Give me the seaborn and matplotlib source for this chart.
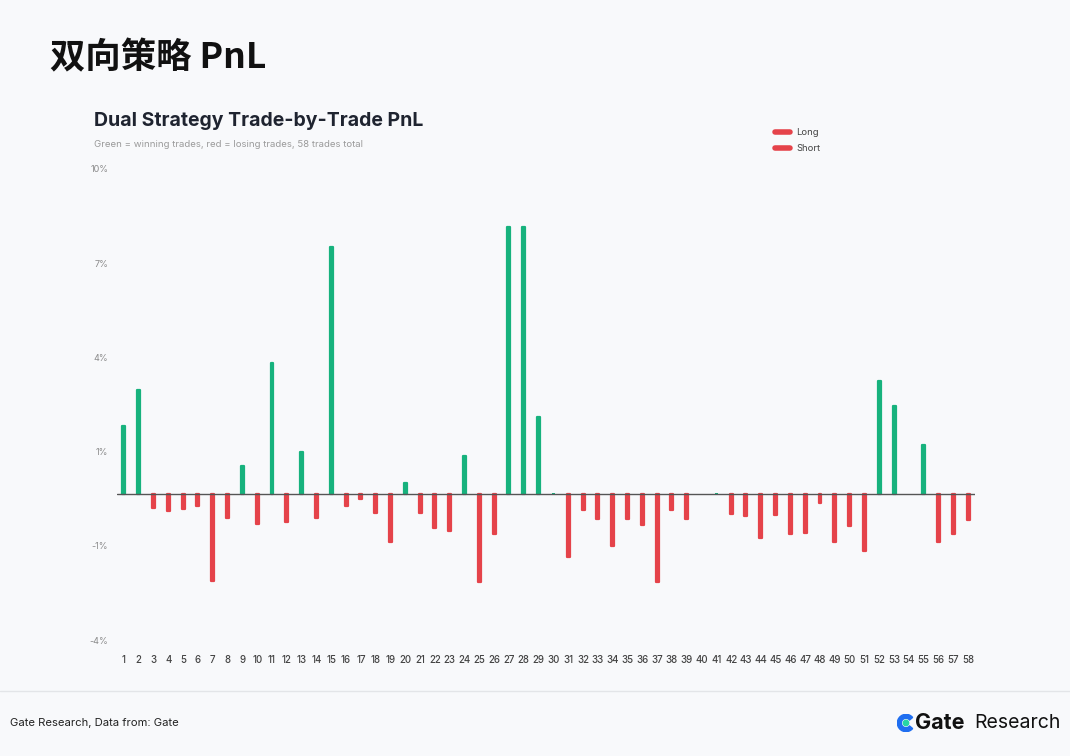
import numpy as np
import pandas as pd
import matplotlib
matplotlib.use("Agg")
import matplotlib.pyplot as plt
from matplotlib.lines import Line2D
from matplotlib.patches import Wedge
import seaborn as sns

# trade-by-trade PnL (%)
trades = list(range(1, 59))
pnl = [
    2.1, 3.2, -0.44, -0.54, -0.46, -0.39, -2.68, -0.75, 0.87, -0.93,
    4.02, -0.87, 1.3, -0.73, 7.6, -0.36, -0.16, -0.59, -1.47, 0.33,
    -0.59, -1.06, -1.13, 1.15, -2.70, -1.23, 8.22, 8.22, 2.35, 0.02,
    -1.95, -0.49, -0.77, -1.6, -0.78, -0.95, -2.70, -0.49, -0.78, 0.0,
    0.03, -0.62, -0.67, -1.36, -0.65, -1.23, -1.21, -0.29, -1.47, -1.0,
    -1.75, 3.46, 2.69, 0.01, 1.51, -1.49, -1.23, -0.8,
]
y_ticks = [-4.5, -1.6, 1.3, 4.2, 7.1, 10.0]
y_labels = ["-4%", "-1%", "1%", "4%", "7%", "10%"]
legend_labels = ["Long", "Short"]

GREEN = "#17b27d"
RED = "#e5434a"
BG = "#f8f9fb"

sns.set_theme(style="white")
plt.rcParams["font.family"] = ["Inter", "Noto Sans CJK SC", "DejaVu Sans"]

df = pd.DataFrame({"trade": [str(t) for t in trades], "pnl": pnl})
df["result"] = np.where(df["pnl"] >= 0, "win", "loss")

fig = plt.figure(figsize=(10.7, 7.56), dpi=100, facecolor=BG)
ax = fig.add_axes([116.5 / 1070, 1 - 640 / 756, (975.5 - 116.5) / 1070, (640 - 169) / 756])
ax.set_facecolor(BG)

sns.barplot(
    data=df, x="trade", y="pnl", hue="result",
    palette={"win": GREEN, "loss": RED},
    dodge=False, width=0.2, legend=False, ax=ax,
    linewidth=0, saturation=1,
)
# soften bar ends like the rounded strokes of the source
for p in ax.patches:
    if abs(p.get_height()) < 0.05:
        continue
    p.set_edgecolor(p.get_facecolor())
    p.set_linewidth(1.6)
    p.set_joinstyle("round")
ax.axhline(0, color="#555555", lw=1.0, zorder=3)

ax.set_xlim(-0.5, len(trades) - 0.5)
ax.set_ylim(-4.5, 10)
ax.set_yticks(y_ticks)
ax.set_yticklabels(y_labels)
ax.set_xlabel("")
ax.set_ylabel("")
ax.tick_params(axis="y", length=0, pad=6, labelsize=6.5, labelcolor="#8a8a8a")
ax.tick_params(axis="x", length=0, pad=11, labelsize=7, labelcolor="#444444")
for lab in ax.get_xticklabels():
    lab.set_fontweight("medium")
sns.despine(ax=ax, left=True, bottom=True)
ax.grid(False)

# legend (both entries red in the source)
handles = [Line2D([0], [0], color=RED, lw=4, solid_capstyle="round") for _ in legend_labels]
fig.legend(handles, legend_labels, loc="upper left", bbox_to_anchor=(766 / 1070, 1 - 120 / 756),
           frameon=False, fontsize=6.8, labelcolor="#444444", handlelength=1.6,
           handletextpad=0.7, labelspacing=0.7)

# titles
fig.text(50 / 1070, 1 - 58 / 756, "双向策略 PnL", fontsize=25.5, fontweight="bold",
         family=["Noto Sans CJK SC", "DejaVu Sans"], va="center", color="#111111")
fig.text(94 / 1070, 1 - 121 / 756, "Dual Strategy Trade-by-Trade PnL", fontsize=14,
         fontweight="bold", va="center", color="#1f2430")
fig.text(94 / 1070, 1 - 144.5 / 756, "Green = winning trades, red = losing trades, 58 trades total",
         fontsize=6.9, va="center", color="#9a9a9a")

# footer
fig.add_artist(Line2D([0, 1], [1 - 691 / 756] * 2, color="#e3e5e8", lw=1))
fig.text(10 / 1070, 1 - 723 / 756, "Gate Research, Data from: Gate", fontsize=8.1,
         va="center", color="#222222")
icon_ax = fig.add_axes([897 / 1070, 1 - 732 / 756, 18 / 1070, 18 / 756])
icon_ax.set_aspect("equal")
icon_ax.add_patch(Wedge((0.5, 0.5), 0.48, 40, 320, width=0.22, color="#1f6ef0"))
icon_ax.add_patch(Wedge((0.5, 0.5), 0.15, 0, 360, color="#27d6a4"))
icon_ax.set_xlim(0, 1)
icon_ax.set_ylim(0, 1)
icon_ax.axis("off")
fig.text(915 / 1070, 1 - 723 / 756, "Gate", fontsize=15.5, fontweight="bold",
         va="center", color="#111111")
fig.text(974 / 1070, 1 - 723 / 756, "Research", fontsize=14, va="center", color="#111111")

fig.savefig("out.png", dpi=100, facecolor=BG)
